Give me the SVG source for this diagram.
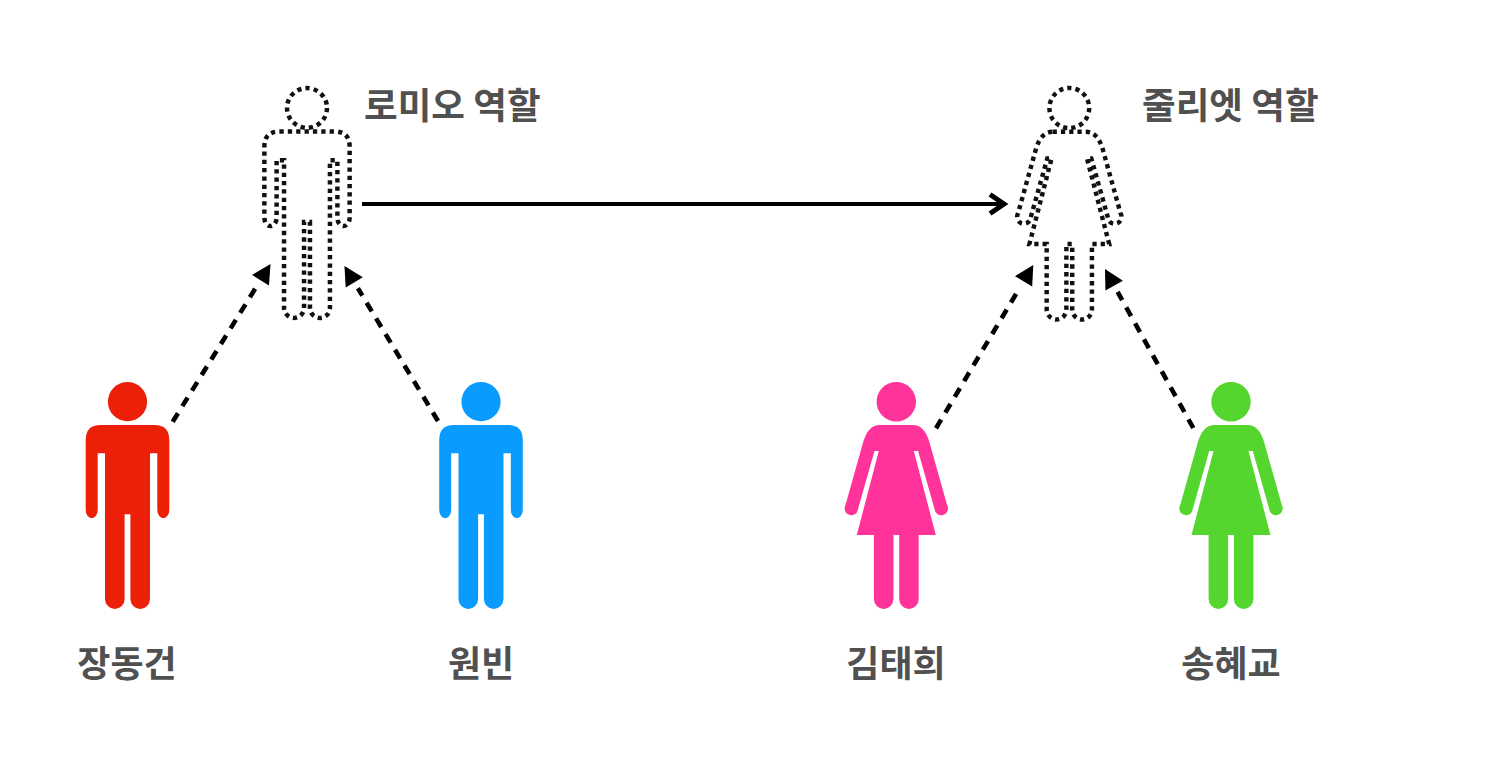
<svg xmlns="http://www.w3.org/2000/svg" xmlns:xlink="http://www.w3.org/1999/xlink" width="1510" height="764" viewBox="0 0 1510 764">
<style>
.t{font-family:"Noto Sans CJK KR","Liberation Sans",sans-serif;font-size:36px;font-weight:700;fill:#505050}
.h{font-size:36.6px}
.d{fill:none;stroke:#111;stroke-width:4.4;stroke-dasharray:4.2 4}
.dash{fill:none;stroke:#000;stroke-width:4.6;stroke-dasharray:10 8.3}
</style>
<defs>
<g id="man"><circle cx="0" cy="401.7" r="19.6"/><path d="M-27 425H27Q41.8 425 41.8 440V510A6 8.3 0 0 1 29.8 510V453.3H22.5V599A9.8 10 0 0 1 2.9 599V514.3H-2.9V599A9.8 10 0 0 1 -22.5 599V453.3H-29.8V510A6 8.3 0 0 1 -41.8 510V440Q-41.8 425 -27 425Z"/></g>
<g id="woman"><circle cx="0" cy="401.7" r="19.7"/><path d="M-16.5 425H16.5Q28 425 33 441.7L50.8 505A6.4 6.4 0 0 1 39 511.7L21.8 451H17.5L39.5 535H22.4V599A9.75 10 0 0 1 2.9 599V535H-2.9V599A9.75 10 0 0 1 -22.4 599V535H-39.5L-17.5 451H-21.8L-39 511.7A6.4 6.4 0 0 1 -50.8 505L-33 441.7Q-28 425 -16.5 425Z"/></g>
<marker id="open" markerUnits="userSpaceOnUse" markerWidth="30" markerHeight="40" refX="20" refY="20" orient="auto"><path d="M6 10.5L20 20L6 29.5" fill="none" stroke="#000" stroke-width="5"/></marker>
<marker id="fill" markerUnits="userSpaceOnUse" markerWidth="30" markerHeight="24" refX="0" refY="12" orient="auto"><path d="M7 2L26 12L7 22Z" fill="#000"/></marker>
</defs>
<rect width="1510" height="764" fill="#fff"/>
<g id="connectors">
<path d="M362 204H1004" fill="none" stroke="#000" stroke-width="3.8" marker-end="url(#open)"/>
<path class="dash" d="M172.7 421.7L256.8 286.1" marker-end="url(#fill)"/>
<path class="dash" d="M438 421L357.9 288.3" marker-end="url(#fill)"/>
<path class="dash" d="M935 430L1020 287.3" stroke-dashoffset="-2" marker-end="url(#fill)"/>
<path class="dash" d="M1193.3 428L1117.6 291.8" marker-end="url(#fill)"/>
</g>
<g id="romeo"><use href="#man" class="d" transform="translate(307 88) scale(1.02 1.013) translate(0 -382)"/><text class="t h" x="364" y="119">로미오 역할</text></g>
<g id="juliet"><use href="#woman" class="d" transform="translate(1069.3 88) scale(1.01 1.02) translate(0 -382)"/><text class="t h" x="1142" y="119">줄리엣 역할</text></g>
<g id="jang"><use href="#man" fill="#ec2008" transform="translate(127.5 0)"/><text class="t" x="127" y="677" text-anchor="middle">장동건</text></g>
<g id="won"><use href="#man" fill="#0a9bff" transform="translate(481 0)"/><text class="t" x="481" y="677" text-anchor="middle">원빈</text></g>
<g id="kim"><use href="#woman" fill="#ff3399" transform="translate(896.3 0)"/><text class="t" x="896" y="677" text-anchor="middle">김태희</text></g>
<g id="song"><use href="#woman" fill="#55d62e" transform="translate(1231 0)"/><text class="t" x="1231" y="677" text-anchor="middle">송혜교</text></g>
</svg>
